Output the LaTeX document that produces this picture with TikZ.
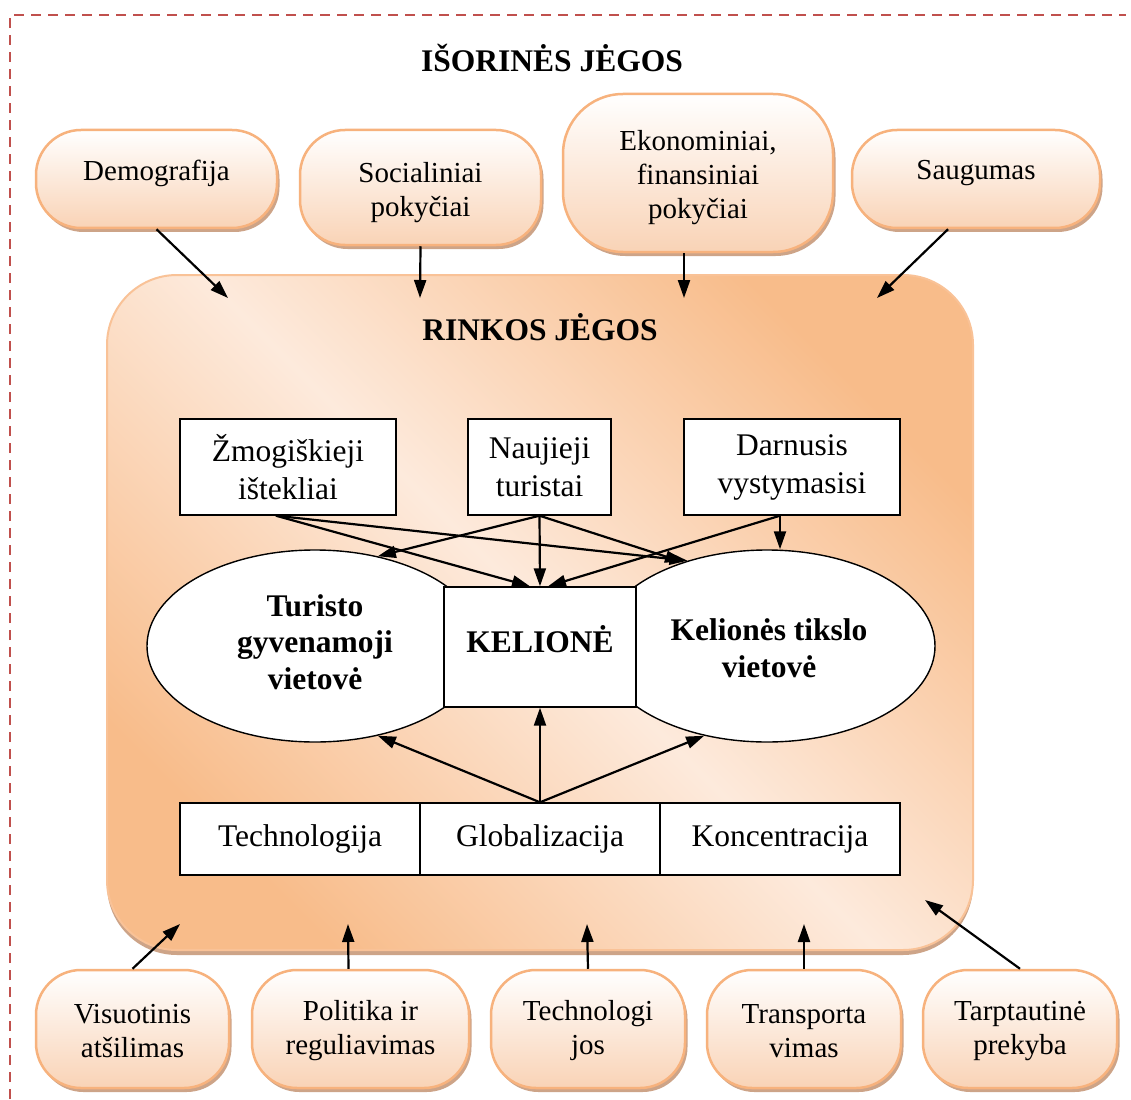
\documentclass[tikz,border=0pt]{standalone}
\usepackage{fontspec}
\setmainfont{Liberation Serif}
\usetikzlibrary{arrows.meta,shapes.geometric,shadows,calc}
\definecolor{dashred}{HTML}{C0504D}
\definecolor{pillborder}{HTML}{F7B27D}
\definecolor{pillbot}{HTML}{F9D3B6}
\definecolor{pillshadow}{HTML}{CDA488}
\definecolor{bigdark}{HTML}{F8BC8A}
\definecolor{biglight}{HTML}{FDEADC}
\definecolor{bigborder}{HTML}{F9C297}
\newcommand\pillfnt{\fontsize{29}{34}\selectfont}
\newcommand\boxfnt{\fontsize{31.5}{38}\selectfont}
\newcommand\ellfnt{\fontsize{31.5}{36.5}\selectfont\bfseries}
\newcommand\titfnt{\fontsize{31.5}{36}\selectfont\bfseries}
\begin{document}
\begin{tikzpicture}[x=1pt,y=-1pt,
  pill/.style={rectangle, rounded corners=45pt, draw=pillborder, line width=2.5pt,
    top color=white, bottom color=pillbot, inner sep=0pt,
    general shadow={fill=pillshadow, shadow xshift=2.5pt, shadow yshift=-4pt}},
  ptxt/.style={font=\pillfnt, align=center, inner sep=0pt},
  etxt/.style={font=\ellfnt, align=center, inner sep=0pt},
  wbox/.style={rectangle, draw=black, line width=1.4pt, fill=white, align=center,
    font=\boxfnt, inner sep=0pt},
  ell/.style={ellipse, draw=black, line width=1.4pt, fill=white,
    minimum width=336pt, minimum height=192pt, inner sep=0pt},
  arr/.style={-{Triangle[length=18pt,width=12pt]}, line width=2.2pt, black},
  title/.style={font=\titfnt, inner sep=0pt}
]
\useasboundingbox (0,0) rectangle (1131,1099);
\fill[white] (0,0) rectangle (1131,1099);
% frame
\draw[dashred, line width=2.6pt, dash pattern=on 10pt off 7pt] (10,1099) -- (10,15) -- (1126,15);
\node[title] (iso) at (552,58) {IŠORINĖS JĖGOS};
% big box
\node[rectangle, rounded corners=70pt, draw=bigborder, line width=2pt,
  left color=bigdark, right color=bigdark, middle color=biglight, shading angle=-45,
  minimum width=866pt, minimum height=675pt, inner sep=0pt,
  general shadow={fill=pillshadow, shadow xshift=0pt, shadow yshift=-5pt}] (rinkos) at (540,612.5) {};
\node[title] (rt) at (540,327) {RINKOS JĖGOS};
% top pills
\node[pill, minimum width=241pt, minimum height=98pt,
  label={[ptxt, yshift=6pt]center:{Demografija}}] (demo) at (156.5,179) {};
\node[pill, minimum width=241pt, minimum height=115pt,
  label={[ptxt, yshift=-5pt]center:{Socialiniai\\pokyčiai}}] (soc) at (420.5,187.5) {};
\node[pill, rounded corners=60pt, minimum width=270pt, minimum height=158pt,
  label={[ptxt, yshift=-5pt]center:{Ekonominiai,\\finansiniai\\pokyčiai}}] (eko) at (698,173) {};
\node[pill, minimum width=248pt, minimum height=98pt,
  label={[ptxt, yshift=6pt]center:{Saugumas}}] (saug) at (976,179) {};
% bottom pills
\node[pill, minimum width=193pt, minimum height=118pt,
  label={[ptxt, yshift=-2pt]center:{Visuotinis\\atšilimas}}] (vis) at (132.5,1029) {};
\node[pill, minimum width=217pt, minimum height=118pt,
  label={[ptxt, yshift=-2pt]center:{Politika ir\\reguliavimas}}] (pol) at (360.5,1029) {};
\node[pill, minimum width=194pt, minimum height=118pt,
  label={[ptxt, yshift=-2pt]center:{Technologi\\jos}}] (tech) at (588,1029) {};
\node[pill, minimum width=194pt, minimum height=118pt,
  label={[ptxt, yshift=-2pt]center:{Transporta\\vimas}}] (trans) at (804,1029) {};
\node[pill, minimum width=194pt, minimum height=118pt,
  label={[ptxt, yshift=-2pt]center:{Tarptautinė\\prekyba}}] (tarp) at (1020,1029) {};
% inner boxes
\node[wbox, minimum width=216pt, minimum height=96pt] (zmog) at (288,467) {Žmogiškieji\\ištekliai};
\node[wbox, minimum width=143pt, minimum height=96pt] (nauj) at (539.5,467) {Naujieji\\turistai};
\node[wbox, minimum width=216pt, minimum height=96pt] (darn) at (792,467) {Darnusis\\vystymasisi};
% ellipses and KELIONĖ
\node[ell, label={[etxt, yshift=4pt]center:{Turisto\\gyvenamoji\\vietovė}}] (L) at (315,646) {};
\node[ell, label={[etxt, xshift=2pt, yshift=-2pt]center:{Kelionės tikslo\\vietovė}}] (R) at (767,646) {};
\node[wbox, font=\titfnt, text height=20pt, text depth=9pt, minimum width=192pt, minimum height=120pt] (kel) at (540,647) {KELIONĖ};
% bottom row
\node[wbox, minimum width=240pt, minimum height=72pt] (techn) at (300,839) {Technologija};
\node[wbox, minimum width=240pt, minimum height=72pt] (glob) at (540,839) {Globalizacija};
\node[wbox, minimum width=240pt, minimum height=72pt] (konc) at (780,839) {Koncentracija};
% free arrow ends inside the market box
\coordinate (t1) at (228,298);
\coordinate (t2) at (420,298);
\coordinate (t3) at (684,298);
\coordinate (t4) at (877,298);
\coordinate (b1) at (180,924);
\coordinate (b2) at (348,924);
\coordinate (b3) at (587,924);
\coordinate (b4) at (804,924);
\coordinate (b5) at (925,900);
% external arrows
\draw[arr] (demo.south) -- (t1);
\draw[arr] (soc.south) -- (t2);
\draw[arr] ($(eko.south)+(-14,0)$) -- (t3);
\draw[arr] ($(saug.south)+(-28,0)$) -- (t4);
\draw[arr] (vis.north) -- (b1);
\draw[arr] ($(pol.north)+(-12,0)$) -- (b2);
\draw[arr] (tech.north) -- (b3);
\draw[arr] (trans.north) -- (b4);
\draw[arr] (tarp.north) -- (b5);
% internal arrows
\coordinate (zs) at ($(zmog.south)+(-12,0)$);
\coordinate (ds) at ($(darn.south)+(-12,0)$);
\draw[arr] (zs) -- ($(kel.north)+(-10,0)$);
\draw[arr] (zs) -- (R.133);
\draw[arr] (nauj.south) -- (L.55);
\draw[arr] (nauj.south) -- (kel.north);
\draw[arr] (nauj.south) -- (R.135);
\draw[arr] (ds) -- ($(kel.north)+(8,0)$);
\draw[arr] (ds) -- (ds |- R.north);
\draw[arr] (glob.north) -- (L.-55);
\draw[arr] (glob.north) -- (kel.south);
\draw[arr] (glob.north) -- (R.-125);
\end{tikzpicture}
\end{document}
